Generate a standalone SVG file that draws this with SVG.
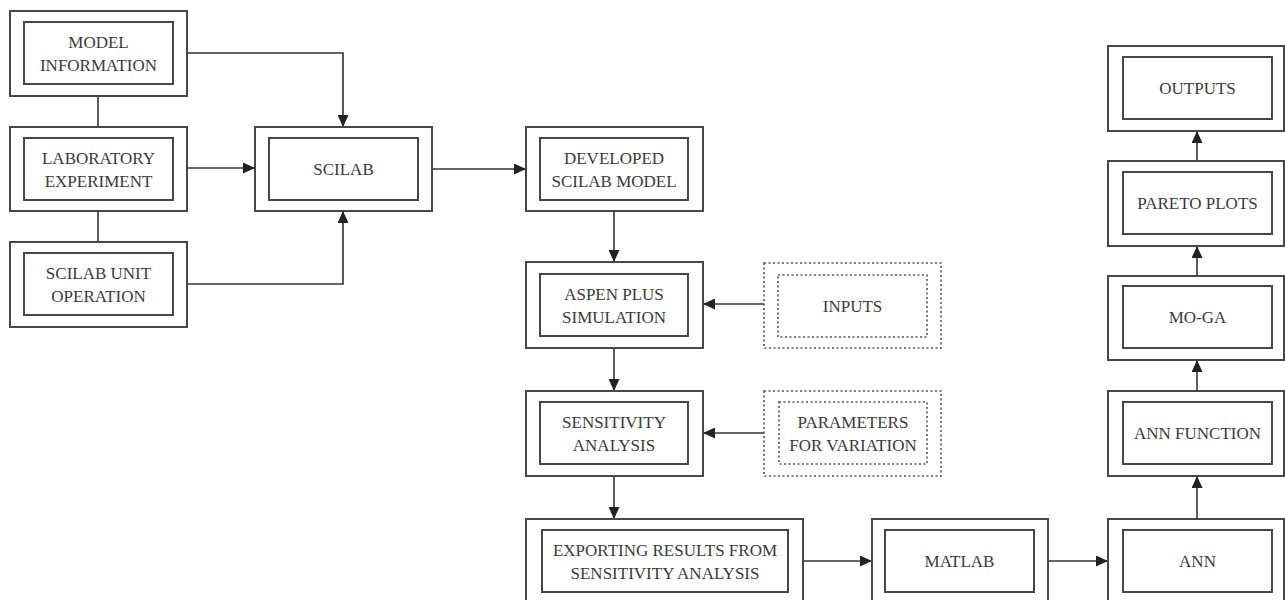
<svg xmlns="http://www.w3.org/2000/svg" width="1285" height="600" viewBox="0 0 1285 600">
<style>
.o{fill:none;stroke:#474747;stroke-width:2}
.i{fill:none;stroke:#474747;stroke-width:2}
.d{fill:none;stroke:#555;stroke-width:1.6;stroke-dasharray:2 2.5}
.t{font-family:"Liberation Serif",serif;font-size:17px;fill:#3a3a3a;text-anchor:middle}
.c{fill:none;stroke:#333;stroke-width:1.6}
</style>
<defs>
<marker id="ah" markerUnits="userSpaceOnUse" markerWidth="12" markerHeight="11" refX="11" refY="5.5" orient="auto">
<path d="M0,0 L12,5.5 L0,11 z" fill="#222"/>
</marker>
</defs>
<rect width="1285" height="600" fill="#fff"/>
<g id="connectors">
<path class="c" d="M98,96 V127"/>
<path class="c" d="M98,211 V242"/>
<path class="c" d="M187,53 H343 V126" marker-end="url(#ah)"/>
<path class="c" d="M187,168 H254" marker-end="url(#ah)"/>
<path class="c" d="M187,284 H343 V212" marker-end="url(#ah)"/>
<path class="c" d="M432,169 H525" marker-end="url(#ah)"/>
<path class="c" d="M614,211 V261" marker-end="url(#ah)"/>
<path class="c" d="M614,348 V390" marker-end="url(#ah)"/>
<path class="c" d="M614,476 V518" marker-end="url(#ah)"/>
<path class="c" d="M764,304 H704" marker-end="url(#ah)"/>
<path class="c" d="M764,433 H704" marker-end="url(#ah)"/>
<path class="c" d="M803,561 H871" marker-end="url(#ah)"/>
<path class="c" d="M1048,561 H1107" marker-end="url(#ah)"/>
<path class="c" d="M1197,519 V477" marker-end="url(#ah)"/>
<path class="c" d="M1197,391 V361" marker-end="url(#ah)"/>
<path class="c" d="M1197,276 V247" marker-end="url(#ah)"/>
<path class="c" d="M1197,161 V132" marker-end="url(#ah)"/>
</g>
<g id="model">
<rect class="o" x="10" y="11" width="177" height="85"/>
<rect class="i" x="24" y="22" width="149" height="62"/>
<text class="t" x="98.5" y="48">MODEL</text>
<text class="t" x="98.5" y="71">INFORMATION</text>
</g>
<g id="lab">
<rect class="o" x="10" y="127" width="177" height="84"/>
<rect class="i" x="24" y="138" width="149" height="62"/>
<text class="t" x="98.5" y="164">LABORATORY</text>
<text class="t" x="98.5" y="187">EXPERIMENT</text>
</g>
<g id="unitop">
<rect class="o" x="10" y="242" width="177" height="85"/>
<rect class="i" x="24" y="253" width="149" height="62"/>
<text class="t" x="98.5" y="279">SCILAB UNIT</text>
<text class="t" x="98.5" y="302">OPERATION</text>
</g>
<g id="scilab">
<rect class="o" x="255" y="127" width="177" height="84"/>
<rect class="i" x="269" y="138" width="149" height="62"/>
<text class="t" x="343.5" y="175">SCILAB</text>
</g>
<g id="developed">
<rect class="o" x="526" y="127" width="177" height="84"/>
<rect class="i" x="540" y="138" width="148" height="62"/>
<text class="t" x="614" y="164">DEVELOPED</text>
<text class="t" x="614" y="187">SCILAB MODEL</text>
</g>
<g id="aspen">
<rect class="o" x="526" y="262" width="177" height="86"/>
<rect class="i" x="540" y="274" width="148" height="62"/>
<text class="t" x="614" y="300">ASPEN PLUS</text>
<text class="t" x="614" y="323">SIMULATION</text>
</g>
<g id="sensitivity">
<rect class="o" x="526" y="391" width="177" height="85"/>
<rect class="i" x="540" y="402" width="148" height="62"/>
<text class="t" x="614" y="428">SENSITIVITY</text>
<text class="t" x="614" y="451">ANALYSIS</text>
</g>
<g id="exporting">
<rect class="o" x="526" y="519" width="277" height="86"/>
<rect class="i" x="542" y="530" width="246" height="62"/>
<text class="t" x="665" y="556">EXPORTING RESULTS FROM</text>
<text class="t" x="665" y="579">SENSITIVITY ANALYSIS</text>
</g>
<g id="matlab">
<rect class="o" x="872" y="519" width="176" height="86"/>
<rect class="i" x="885" y="530" width="149" height="62"/>
<text class="t" x="959.5" y="567">MATLAB</text>
</g>
<g id="ann">
<rect class="o" x="1108" y="519" width="176" height="86"/>
<rect class="i" x="1123" y="530" width="149" height="62"/>
<text class="t" x="1197.5" y="567">ANN</text>
</g>
<g id="annfunction">
<rect class="o" x="1108" y="391" width="176" height="85"/>
<rect class="i" x="1123" y="402" width="149" height="62"/>
<text class="t" x="1197.5" y="439">ANN FUNCTION</text>
</g>
<g id="moga">
<rect class="o" x="1108" y="276" width="176" height="84"/>
<rect class="i" x="1123" y="286" width="149" height="62"/>
<text class="t" x="1197.5" y="323">MO-GA</text>
</g>
<g id="pareto">
<rect class="o" x="1108" y="161" width="176" height="85"/>
<rect class="i" x="1123" y="172" width="149" height="62"/>
<text class="t" x="1197.5" y="209">PARETO PLOTS</text>
</g>
<g id="outputs">
<rect class="o" x="1108" y="46" width="176" height="85"/>
<rect class="i" x="1123" y="57" width="149" height="62"/>
<text class="t" x="1197.5" y="94">OUTPUTS</text>
</g>
<g id="inputs">
<rect class="d" x="764" y="263" width="177" height="85"/>
<rect class="d" x="778" y="275" width="149" height="62"/>
<text class="t" x="852.5" y="312">INPUTS</text>
</g>
<g id="parameters">
<rect class="d" x="764" y="391" width="177" height="85"/>
<rect class="d" x="779" y="402" width="148" height="62"/>
<text class="t" x="853" y="428">PARAMETERS</text>
<text class="t" x="853" y="451">FOR VARIATION</text>
</g>
</svg>
